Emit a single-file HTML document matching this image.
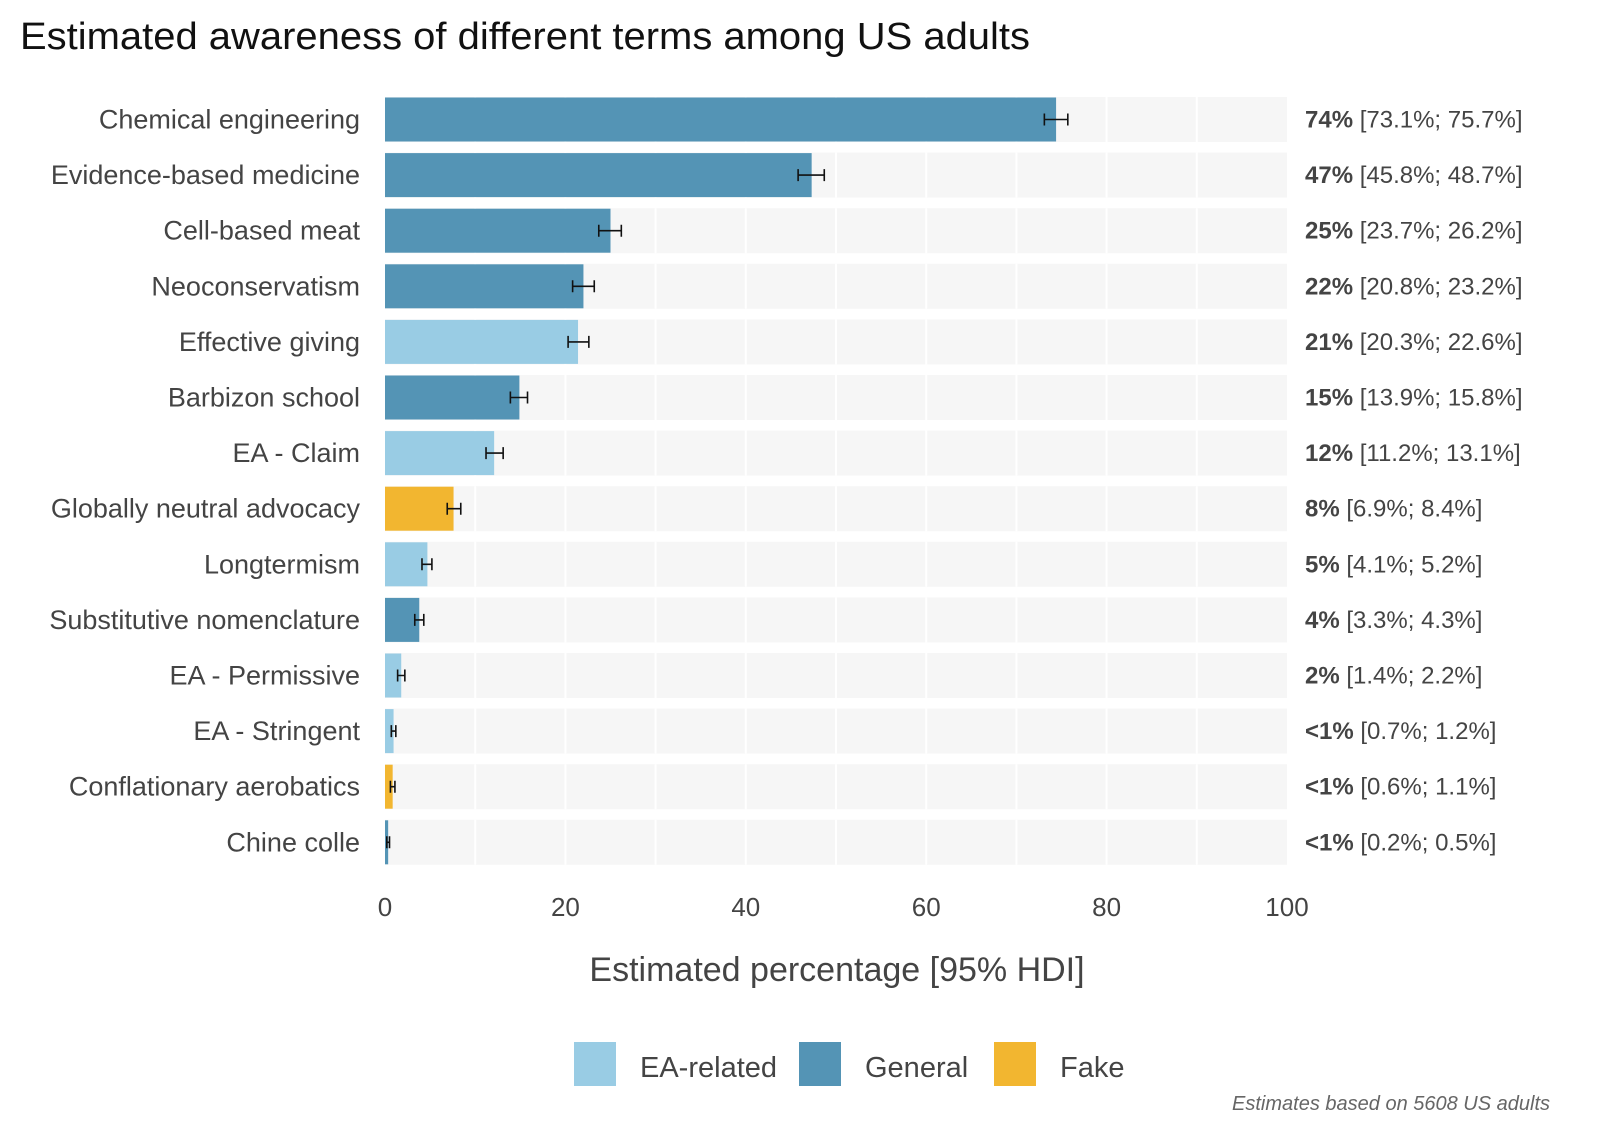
<!DOCTYPE html>
<html><head><meta charset="utf-8"><style>
body{margin:0;background:#fff;width:1600px;height:1134px;overflow:hidden;font-family:"Liberation Sans",sans-serif}
</style></head><body>
<svg id="c" width="1600" height="1134" xmlns="http://www.w3.org/2000/svg">
<text x="20" y="49" font-size="38" fill="#111" textLength="1010" lengthAdjust="spacingAndGlyphs">Estimated awareness of different terms among US adults</text>
<g id="plot"></g>
<g id="xaxis"></g>
<text x="837" y="981" font-size="34" fill="#444" text-anchor="middle">Estimated percentage [95% HDI]</text>
<g>
<rect x="574" y="1042" width="42" height="44" fill="#99cce4"/>
<text x="640" y="1077" font-size="29" fill="#444">EA-related</text>
<rect x="799" y="1042" width="42" height="44" fill="#5494b5"/>
<text x="865" y="1077" font-size="29" fill="#444">General</text>
<rect x="994" y="1042" width="42" height="44" fill="#f2b630"/>
<text x="1060" y="1077" font-size="29" fill="#444">Fake</text>
</g>
<text x="1550" y="1110" font-size="20" fill="#666" font-style="italic" text-anchor="end">Estimates based on 5608 US adults</text>
</svg>
<script>
const categories=["Chemical engineering","Evidence-based medicine","Cell-based meat","Neoconservatism","Effective giving","Barbizon school","EA - Claim","Globally neutral advocacy","Longtermism","Substitutive nomenclature","EA - Permissive","EA - Stringent","Conflationary aerobatics","Chine colle"];
const groups=["General","General","General","General","EA","General","EA","Fake","EA","General","EA","EA","Fake","General"];
const means=[74.4,47.3,25.0,22.0,21.4,14.9,12.1,7.6,4.7,3.8,1.8,0.95,0.85,0.35];
const lows=[73.1,45.8,23.7,20.8,20.3,13.9,11.2,6.9,4.1,3.3,1.4,0.7,0.6,0.2];
const highs=[75.7,48.7,26.2,23.2,22.6,15.8,13.1,8.4,5.2,4.3,2.2,1.2,1.1,0.5];
const labels=["74%","47%","25%","22%","21%","15%","12%","8%","5%","4%","2%","<1%","<1%","<1%"];
const ticks=[0,20,40,60,80,100];
const colors={General:"#5494b5",EA:"#99cce4",Fake:"#f2b630"};
const NS="http://www.w3.org/2000/svg";
const x=v=>385+v*9.02;
const y=i=>119.5+i*55.6;
const plot=document.getElementById('plot');
function mk(tag,attrs,parent){const e=document.createElementNS(NS,tag);for(const k in attrs)e.setAttribute(k,attrs[k]);parent.appendChild(e);return e;}
categories.forEach((c,i)=>{
  const cy=y(i);
  const band=mk('rect',{x:385,y:cy-22.5,width:902,height:45,fill:'#f6f6f6'},plot);
  
  
  for(let g=10;g<100;g+=10){const l=mk('line',{x1:x(g),x2:x(g),y1:cy-22.5,y2:cy+22.5,stroke:'#fff','stroke-width':2},plot);
    
    }
  const b=mk('rect',{x:385,y:cy-22,width:Math.max(x(means[i])-385,2),height:44,fill:colors[groups[i]]},plot);
  
  
  const eb=mk('path',{d:`M${x(lows[i])},${cy-6}v12M${x(lows[i])},${cy}H${x(highs[i])}M${x(highs[i])},${cy-6}v12`,stroke:'#111','stroke-width':1.6,fill:'none'},plot);
  
  
  const t=mk('text',{x:360,y:cy+9,'font-size':27,fill:'#444','text-anchor':'end'},plot);t.textContent=c;
  
  
  const v=mk('text',{x:1305,y:cy+8,'font-size':24,fill:'#444'},plot);
  
  
  const bt=mk('tspan',{'font-weight':'bold'},v);bt.textContent=labels[i];
  const rt=mk('tspan',{},v);rt.textContent=` [${lows[i].toFixed(1)}%; ${highs[i].toFixed(1)}%]`;
});
const xa=document.getElementById('xaxis');
ticks.forEach(t=>{const e=mk('text',{x:x(t),y:916,'font-size':26,fill:'#444','text-anchor':'middle'},xa);e.textContent=t;
  
  });
</script>
</body></html>
